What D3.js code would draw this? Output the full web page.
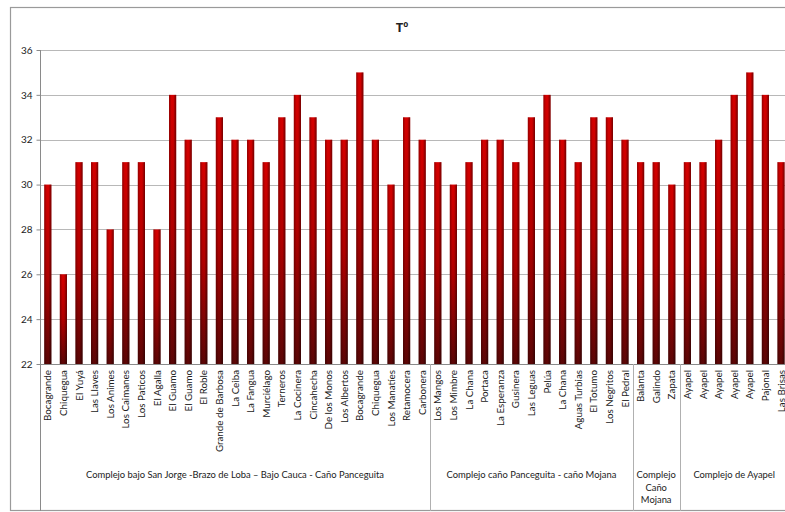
<!DOCTYPE html>
<html><head><meta charset="utf-8">
<script src="https://cdn.jsdelivr.net/npm/d3@7"></script>
<style>
body{margin:0;background:#fff;}
text{font-family:Lato,"Open Sans",sans-serif;fill:#222;}
</style></head>
<body>
<svg id="chart" width="785" height="512"></svg>
<script>
const title = "Tº";
const categories = [
 "Bocagrande","Chiquegua","El Yuyá","Las Llaves","Los Animes","Los Caimanes","Los Paticos","El Agalla","El Guamo","El Guamo","El Roble","Grande de Barbosa","La Ceiba","La Fangua","Murciélago","Terneros","La Cocinera","Cincahecha","De los Monos","Los Albertos","Bocagrande","Chiquegua","Los Manatíes","Retamocera","Carbonera",
 "Los Mangos","Los Mimbre","La Chana","Portaca","La Esperanza","Gusinera","Las Leguas","Pelúa","La Chana","Aguas Turbias","El Totumo","Los Negritos","El Pedral",
 "Balanta","Galindo","Zapata",
 "Ayapel","Ayapel","Ayapel","Ayapel","Ayapel","Pajonal","Las Brisas"
];
const values = [
 30,26,31,31,28,31,31,28,34,32,31,33,32,32,31,33,34,33,32,32,35,32,30,33,32,
 31,30,31,32,32,31,33,34,32,31,33,33,32,
 31,31,30,
 31,31,32,34,35,34,31
];
const groupNames = [
 ["Complejo bajo San Jorge -Brazo de Loba – Bajo Cauca - Caño Panceguita"],
 ["Complejo caño Panceguita - caño Mojana"],
 ["Complejo","Caño","Mojana"],
 ["Complejo de Ayapel"]
];
const groupSizes = [25,13,3,7];
const yTicks = [22,24,26,28,30,32,34,36];

const svg = d3.select("#chart");
const padL = 40, padT = 50, base = 364, step = 15.6;
const padR = padL + step * categories.length;

const defs = svg.append("defs");
const gv = defs.append("linearGradient").attr("id","gv").attr("x1",0).attr("y1",0).attr("x2",0).attr("y2",1);
gv.append("stop").attr("offset","0%").attr("stop-color","#d40000");
gv.append("stop").attr("offset","50%").attr("stop-color","#b00000");
gv.append("stop").attr("offset","100%").attr("stop-color","#5a0606");
const gh = defs.append("linearGradient").attr("id","gh").attr("x1",0).attr("y1",0).attr("x2",1).attr("y2",0);
gh.append("stop").attr("offset","0%").attr("stop-color","#000").attr("stop-opacity",0.3);
gh.append("stop").attr("offset","35%").attr("stop-color","#000").attr("stop-opacity",0);
gh.append("stop").attr("offset","60%").attr("stop-color","#000").attr("stop-opacity",0);
gh.append("stop").attr("offset","100%").attr("stop-color","#000").attr("stop-opacity",0.45);

// chart border
svg.append("rect").attr("x",10.5).attr("y",7.5).attr("width",800).attr("height",503)
  .attr("fill","#fff").attr("stroke","#9a9a9a").attr("stroke-width",1.2);

svg.append("text").attr("x",402).attr("y",32).attr("text-anchor","middle")
  .attr("font-size",13).attr("font-weight","bold").style("font-family","'Open Sans',sans-serif").text(title);

const x = d3.scaleBand().domain(d3.range(categories.length)).range([padL,padR]).paddingInner(0.54).paddingOuter(0.27);
const y = d3.scaleLinear().domain([22,36]).range([base,padT]);

// gridlines
svg.append("g").selectAll("line").data(yTicks.filter(t=>t>22)).join("line")
  .attr("x1",padL).attr("x2",padR).attr("y1",d=>Math.round(y(d))+0.5).attr("y2",d=>Math.round(y(d))+0.5)
  .attr("stroke","#b8b8b8").attr("stroke-width",1);

// y axis
const yAxis = svg.append("g").attr("transform",`translate(${padL+0.5},0)`)
  .call(d3.axisLeft(y).tickValues(yTicks).tickSize(4).tickPadding(4).tickFormat(d3.format("d")));
yAxis.select(".domain").remove();
yAxis.selectAll("line").attr("stroke","#8a8a8a");
yAxis.selectAll("text").attr("font-size",10).attr("fill","#333").style("font-family","Lato,sans-serif");
svg.append("line").attr("x1",padL+0.5).attr("x2",padL+0.5).attr("y1",padT).attr("y2",511).attr("stroke","#8a8a8a");

// bars
const bars = svg.append("g");
bars.selectAll("rect.b").data(values).join("rect").attr("class","b")
  .attr("x",(d,i)=>x(i)).attr("width",x.bandwidth())
  .attr("y",d=>y(d)).attr("height",d=>base-y(d)).attr("fill","url(#gv)");
bars.selectAll("rect.s").data(values).join("rect").attr("class","s")
  .attr("x",(d,i)=>x(i)).attr("width",x.bandwidth())
  .attr("y",d=>y(d)).attr("height",d=>base-y(d)).attr("fill","url(#gh)");

// baseline
svg.append("line").attr("x1",padL).attr("x2",padR).attr("y1",base+0.5).attr("y2",base+0.5).attr("stroke","#8a8a8a");

// category labels
svg.append("g").selectAll("text").data(categories).join("text")
  .attr("transform",(d,i)=>`translate(${x(i)+x.bandwidth()/2+3.5},${base+6}) rotate(-90)`)
  .attr("text-anchor","end").attr("font-size",9.8).attr("fill","#222").text(d=>d);

// group separators and labels
let start = 0;
const seps = [];
groupSizes.forEach((n,gi)=>{
  const x0 = padL + start*step, x1 = padL + (start+n)*step;
  if (gi>0) seps.push(x0);
  const cx = (x0+x1)/2;
  const lines = groupNames[gi];
  const y0 = 478;
  const t = svg.append("text").attr("text-anchor","middle").attr("font-size",9.4).attr("fill","#222");
  lines.forEach((l,li)=>t.append("tspan").attr("x",cx).attr("y",y0+li*12.5).text(l));
  start += n;
});
svg.append("g").selectAll("line").data(seps).join("line")
  .attr("x1",d=>Math.round(d)+0.5).attr("x2",d=>Math.round(d)+0.5).attr("y1",base).attr("y2",511)
  .attr("stroke","#b0b0b0");
</script>
</body></html>
